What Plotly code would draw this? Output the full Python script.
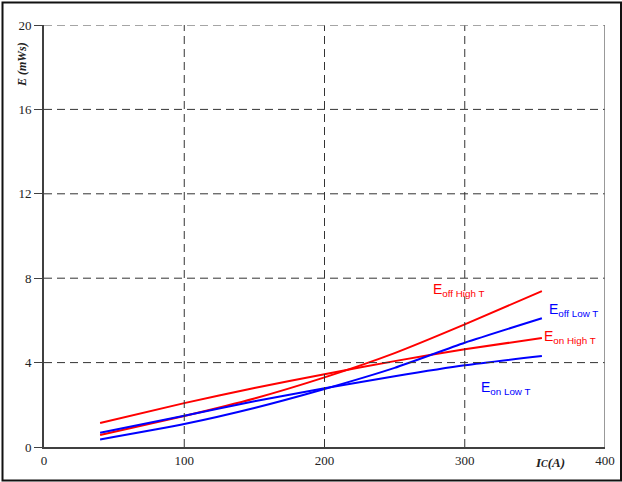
import plotly.graph_objects as go

# Data
ic_values = [40, 100, 150, 200, 250, 300, 355]
eon_high_t = [1.14, 2.08, 2.80, 3.45, 4.07, 4.63, 5.17]
eoff_high_t = [0.57, 1.47, 2.30, 3.30, 4.45, 5.81, 7.39]
eoff_low_t = [0.36, 1.09, 1.85, 2.75, 3.75, 4.94, 6.10]
eon_low_t = [0.68, 1.48, 2.17, 2.78, 3.35, 3.87, 4.31]

x_ticks = [0, 100, 200, 300, 400]
y_ticks = [0, 4, 8, 12, 16, 20]

series = [
    ("Eon High T", eon_high_t, "#ff0000"),
    ("Eoff High T", eoff_high_t, "#ff0000"),
    ("Eoff Low T", eoff_low_t, "#0000ff"),
    ("Eon Low T", eon_low_t, "#0000ff"),
]

fig = go.Figure()
for name, vals, col in series:
    fig.add_trace(go.Scatter(x=ic_values, y=vals, mode="lines", name=name,
                             line=dict(color=col, width=2, shape="spline", smoothing=0.6),
                             showlegend=False, hoverinfo="skip"))

serif = "Liberation Serif, Times New Roman, serif"
sans = "Liberation Sans, Arial, sans-serif"

fig.update_layout(
    width=622, height=482, autosize=False,
    margin=dict(l=44, r=17, t=25, b=35, autoexpand=False),
    paper_bgcolor="white", plot_bgcolor="white",
    xaxis=dict(range=[0, 400], tickvals=x_ticks, showgrid=False, zeroline=False,
               showline=True, linecolor="#404040", linewidth=2, automargin=False,
               ticks="", tickfont=dict(family=serif, size=13, color="#222"),
               fixedrange=True),
    yaxis=dict(range=[0, 20], tickvals=y_ticks, showgrid=False, zeroline=False,
               showline=True, linecolor="#404040", linewidth=2, automargin=False,
               ticks="outside", ticklen=8, tickcolor="#404040",
               tickfont=dict(family=serif, size=13, color="#222"),
               fixedrange=True),
)

shapes = []
# vertical grid lines
for xv in x_ticks[1:-1]:
    shapes.append(dict(type="line", xref="x", yref="y", x0=xv, x1=xv, y0=0, y1=20,
                       line=dict(color="#333", width=1, dash="8px,5px")))
# horizontal grid lines
for yv in y_ticks[1:-1]:
    shapes.append(dict(type="line", xref="x", yref="y", x0=0, x1=400, y0=yv, y1=yv,
                       line=dict(color="#333", width=1, dash="8px,5px")))
# top border
shapes.append(dict(type="line", xref="x", yref="y", x0=0, x1=400, y0=20, y1=20,
                   line=dict(color="#888", width=1.5, dash="8px,5px")))
# right border
shapes.append(dict(type="line", xref="x", yref="y", x0=400, x1=400, y0=0, y1=20,
                   line=dict(color="#777", width=1.5)))
# outer frame
shapes.append(dict(type="rect", xref="paper", yref="paper",
                   x0=(2.5 - 44) / 561, x1=(621 - 44) / 561,
                   y0=(447 - 480.5) / 422, y1=(447 - 2.5) / 422,
                   line=dict(color="#111", width=2), fillcolor="rgba(0,0,0,0)"))
fig.update_layout(shapes=shapes)

annotations = [
    dict(text="<b><i>E (mWs)</i></b>", xref="paper", yref="paper",
         x=(22 - 44) / 561, y=(447 - 65) / 422, textangle=-90, showarrow=False,
         font=dict(family=serif, size=12, color="#222"), xanchor="center", yanchor="middle"),
    dict(text="<b><i>I<span style='font-size:10px'>C</span>(A)</i></b>", xref="paper", yref="paper",
         x=(550 - 44) / 561, y=(447 - 462) / 422, showarrow=False,
         font=dict(family=serif, size=13, color="#222"), xanchor="center", yanchor="middle"),
    dict(text="E<sub>off High T</sub>", x=276, y=7.42, xref="x", yref="y", showarrow=False,
         xanchor="left", yanchor="middle", font=dict(family=sans, size=14, color="#ff0000")),
    dict(text="E<sub>off Low T</sub>", x=358.5, y=6.5, xref="x", yref="y", showarrow=False,
         xanchor="left", yanchor="middle", font=dict(family=sans, size=14, color="#0000ff")),
    dict(text="E<sub>on High T</sub>", x=355, y=5.2, xref="x", yref="y", showarrow=False,
         xanchor="left", yanchor="middle", font=dict(family=sans, size=14, color="#ff0000")),
    dict(text="E<sub>on Low T</sub>", x=310, y=2.78, xref="x", yref="y", showarrow=False,
         xanchor="left", yanchor="middle", font=dict(family=sans, size=14, color="#0000ff")),
]
fig.update_layout(annotations=annotations)

fig.write_html("out.html",
               config={"displayModeBar": False, "responsive": False},
               post_script="document.body.style.margin='0';document.body.style.overflow='hidden';")
